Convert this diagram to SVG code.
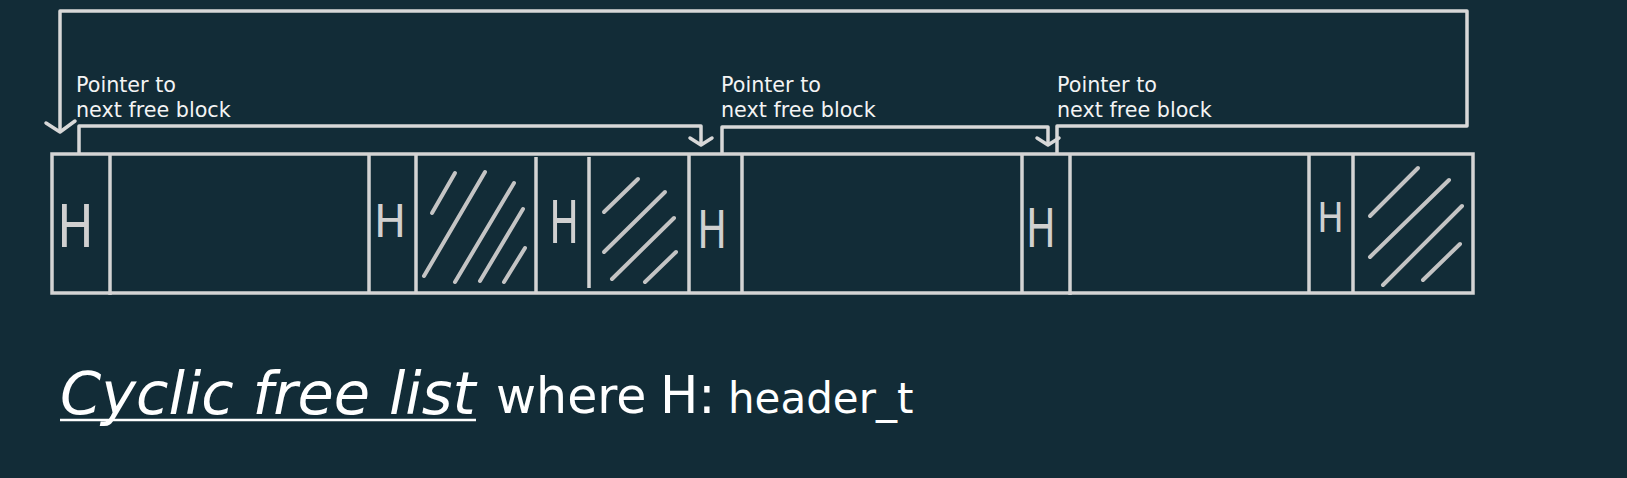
<svg xmlns="http://www.w3.org/2000/svg" width="1627" height="478" viewBox="0 0 1627 478">
<style>
.bar{fill:none;stroke:#d4d4d4;stroke-width:3.5}
.div{stroke:#d4d4d4;stroke-width:3.5}
.hatch{stroke:#c4c4c4;stroke-width:4;stroke-linecap:round}
.conn{fill:none;stroke:#d8d8d8;stroke-width:3.5;stroke-linejoin:round}
.chev{fill:none;stroke:#d8d8d8;stroke-width:3.5;stroke-linecap:round;stroke-linejoin:round}
.hl{font-family:"DejaVu Sans",sans-serif;fill:#d0d0d0;text-anchor:middle}
.lbl{font-family:"DejaVu Sans",sans-serif;font-size:20.7px;fill:#f4f4f4}
.cap{font-family:"DejaVu Sans",sans-serif;fill:#ffffff}
</style>
<rect width="1627" height="478" fill="#122c37"/>
<g id="connectors">
<path class="conn" d="M79,154 V126 H701 V145"/>
<path class="chev" d="M690,138 L701,145 L712,138"/>
<path class="conn" d="M722,155 V127 H1048 V145"/>
<path class="chev" d="M1037,138 L1048,145 L1059,138"/>
<path class="conn" d="M1057,154 V126 H1467 V11 H60 V131"/>
<path class="chev" d="M46,123 L60,132 L75,121"/>
</g>
<g id="memory-bar">
<rect class="bar" x="52" y="154" width="1421" height="139"/>
<line class="div" x1="110" y1="154" x2="110" y2="295"/>
<line class="div" x1="369" y1="154" x2="369" y2="293"/>
<line class="div" x1="416" y1="154" x2="416" y2="293"/>
<line class="div" x1="536" y1="157" x2="536" y2="293"/>
<line class="div" x1="589" y1="157" x2="589" y2="288"/>
<line class="div" x1="689" y1="154" x2="689" y2="293"/>
<line class="div" x1="742" y1="154" x2="742" y2="293"/>
<line class="div" x1="1022" y1="154" x2="1022" y2="293"/>
<line class="div" x1="1070" y1="154" x2="1070" y2="295"/>
<line class="div" x1="1309" y1="154" x2="1309" y2="293"/>
<line class="div" x1="1353" y1="154" x2="1353" y2="293"/>
</g>
<g id="header1"><text class="hl" transform="translate(75.5,247) scale(0.82,1)" font-size="59">H</text></g>
<g id="header2"><text class="hl" transform="translate(390,237) scale(0.95,1)" font-size="45">H</text></g>
<g id="used1">
<line class="hatch" x1="432" y1="213" x2="455" y2="173"/>
<line class="hatch" x1="424" y1="276" x2="485" y2="172"/>
<line class="hatch" x1="455" y1="282" x2="514" y2="183"/>
<line class="hatch" x1="480" y1="281" x2="523" y2="209"/>
<line class="hatch" x1="504" y1="282" x2="525" y2="248"/>
</g>
<g id="header3"><text class="hl" transform="translate(564,243) scale(0.67,1)" font-size="59">H</text></g>
<g id="used2">
<line class="hatch" x1="604" y1="212" x2="638" y2="179"/>
<line class="hatch" x1="604" y1="252" x2="665" y2="192"/>
<line class="hatch" x1="612" y1="279" x2="674" y2="218"/>
<line class="hatch" x1="645" y1="282" x2="676" y2="252"/>
</g>
<g id="header4"><text class="hl" transform="translate(712,248) scale(0.76,1)" font-size="52">H</text></g>
<g id="header5"><text class="hl" transform="translate(1041,247) scale(0.74,1)" font-size="53.5">H</text></g>
<g id="header6"><text class="hl" transform="translate(1330.5,232) scale(0.86,1)" font-size="41">H</text></g>
<g id="used3">
<line class="hatch" x1="1370" y1="216" x2="1418" y2="168"/>
<line class="hatch" x1="1370" y1="257" x2="1449" y2="180"/>
<line class="hatch" x1="1383" y1="285" x2="1462" y2="206"/>
<line class="hatch" x1="1423" y1="280" x2="1460" y2="244"/>
</g>
<g id="label1"><text class="lbl" x="76" y="92">Pointer to</text><text class="lbl" x="76" y="117">next free block</text></g>
<g id="label2"><text class="lbl" x="721" y="92">Pointer to</text><text class="lbl" x="721" y="117">next free block</text></g>
<g id="label3"><text class="lbl" x="1057" y="92">Pointer to</text><text class="lbl" x="1057" y="117">next free block</text></g>
<g id="caption">
<text class="cap" x="60" y="414" font-size="59" font-style="italic">Cyclic free list</text>
<line x1="60" y1="420" x2="476" y2="420" stroke="#ffffff" stroke-width="2.5"/>
<text class="cap" x="496" y="413" font-size="49">where</text>
<text class="cap" x="660" y="413" font-size="51">H:</text>
<text class="cap" x="728" y="413" font-size="42">header_t</text>
</g>
</svg>
